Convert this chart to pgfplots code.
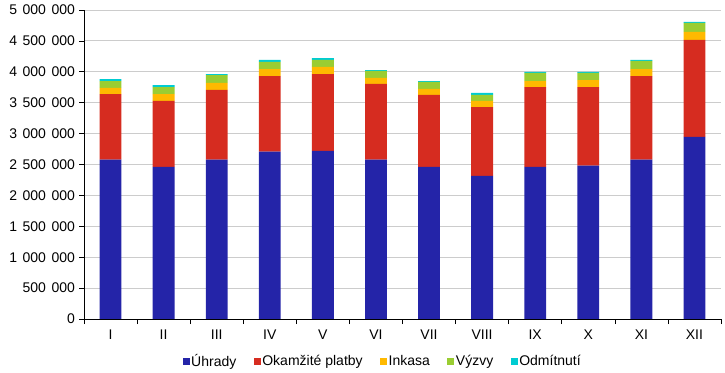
\documentclass[border=0pt]{standalone}
\usepackage{pgfplots}
\pgfplotsset{compat=1.18}
\usepackage{pgfplotstable}
\usepackage{fontspec}
\setmainfont{Liberation Sans}
\definecolor{cBlue}{RGB}{36,36,168}
\definecolor{cRed}{RGB}{214,44,32}
\definecolor{cYellow}{RGB}{255,185,0}
\definecolor{cGreen}{RGB}{154,205,50}
\definecolor{cCyan}{RGB}{0,204,210}
\newcommand{\ts}{\hspace{0.4em}}
\pgfplotstableread{
x  uh     ok     ink    vyz    odm
0  2580000 1060000 100000 110000 32000
1  2460000 1070000 110000 112000 32000
2  2580000 1126000 113000 129000 16000
3  2710000 1222000 113000 114000 32000
4  2720000 1244000 114000 113000 32000
5  2580000 1223000 97000  113000 16000
6  2460000 1165000 97000  113000 16000
7  2315000 1115000 98000  97000  32000
8  2460000 1294000 97000  130000 16000
9  2480000 1274000 113000 114000 16000
10 2580000 1352000 113000 130000 16000
11 2945000 1570000 129000 146000 16000
}\data
\begin{document}
\begin{tikzpicture}
\useasboundingbox (-84bp,-54bp) rectangle (641bp,319bp);
\begin{axis}[
  at={(0,0)}, anchor=south west,
  scale only axis, width=637bp, height=309bp,
  ybar stacked, bar width=0.41,
  xmin=-0.5, xmax=11.5, ymin=0, ymax=5000000,
  axis x line*=bottom, axis y line*=left,
  axis line style={black, line width=0.6bp},
  xtick={0,...,11},
  xticklabels={I,II,III,IV,V,VI,VII,VIII,IX,X,XI,XII},
  major x tick style={draw=none},
  minor xtick={-0.5,0.5,...,11.5},
  minor x tick style={black, line width=0.6bp},
  minor tick length=5bp,
  ytick={0,500000,1000000,1500000,2000000,2500000,3000000,3500000,4000000,4500000,5000000},
  yticklabels={0,500\ts000,1\ts000\ts000,1\ts500\ts000,2\ts000\ts000,2\ts500\ts000,3\ts000\ts000,3\ts500\ts000,4\ts000\ts000,4\ts500\ts000,5\ts000\ts000},
  major tick length=5bp,
  tick align=outside,
  ytick style={black, line width=0.6bp},
  ymajorgrids, grid style={gray!40, line width=0.8bp},
  scaled ticks=false,
  yticklabel style={font=\fontsize{14bp}{16bp}\selectfont, xshift=-0.5bp},
  xticklabel style={font=\fontsize{14bp}{16bp}\selectfont, yshift=-2bp},
  legend columns=5,
  legend style={at={(0.4686,-0.137)}, anchor=center, draw=none, fill=none,
    font=\fontsize{14bp}{16bp}\selectfont,
    /tikz/every even column/.append style={column sep=16bp},
    nodes={inner sep=1.5bp}},
  legend image code/.code={\fill[#1] (0bp,-3.5bp) rectangle (7bp,3.5bp);},
]
\addplot[fill=cBlue, draw=none] table[x=x,y=uh]{\data};
\addplot[fill=cRed, draw=none] table[x=x,y=ok]{\data};
\addplot[fill=cYellow, draw=none] table[x=x,y=ink]{\data};
\addplot[fill=cGreen, draw=none] table[x=x,y=vyz]{\data};
\addplot[fill=cCyan, draw=none] table[x=x,y=odm]{\data};
\legend{Úhrady,Okamžité platby,Inkasa,Výzvy,Odmítnutí}
\end{axis}
\end{tikzpicture}
\end{document}
